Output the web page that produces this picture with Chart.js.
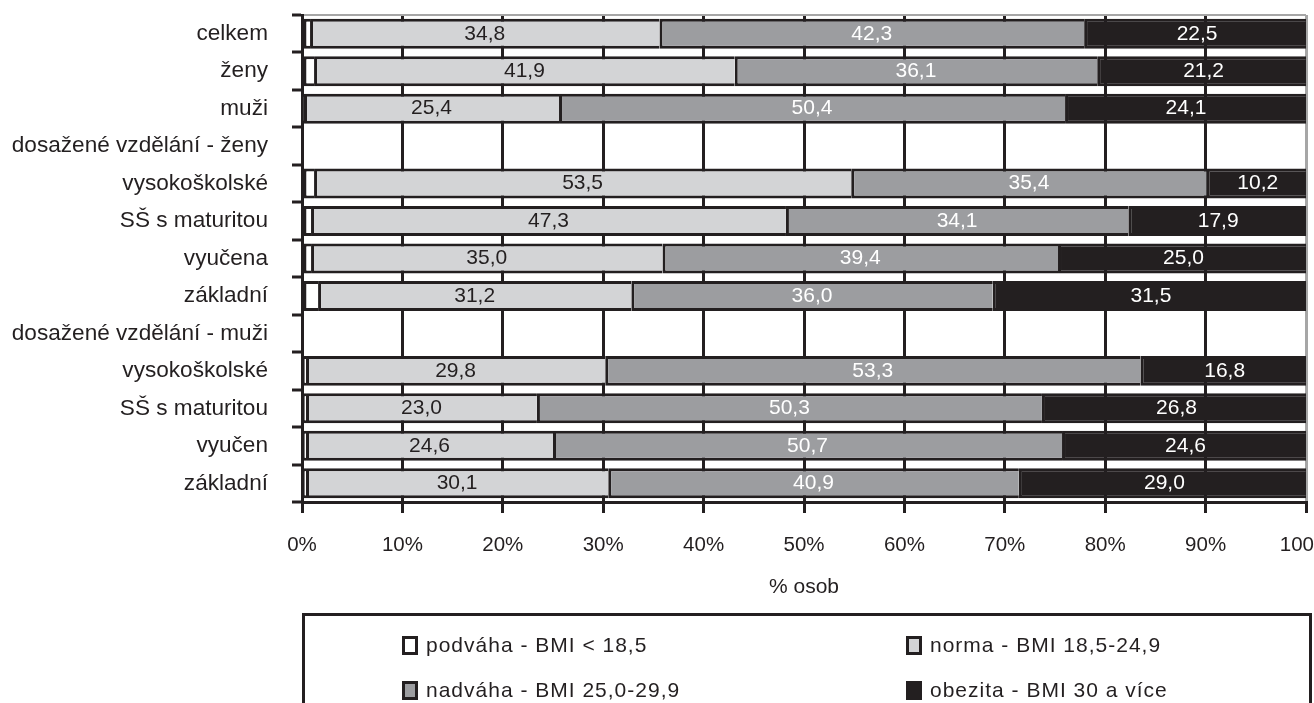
<!DOCTYPE html>
<html>
<head>
<meta charset="utf-8">
<script src="https://cdn.jsdelivr.net/npm/chart.js@4/dist/chart.umd.min.js"></script>
<style>
  html, body { margin: 0; padding: 0; background: #ffffff; }
  body { width: 1314px; height: 703px; position: relative; overflow: hidden; font-family: "Liberation Sans", Arial, sans-serif; }
  #c { position: absolute; left: 0; top: 0; }
  #legend { position: absolute; left: 302px; top: 613px; width: 1010px; height: 120px; border: 3px solid #231f20; box-sizing: border-box; }
  .item { position: absolute; display: flex; align-items: center; font-size: 21px; letter-spacing: 1px; color: #231f20; white-space: pre; height: 24px; }
  .sw { width: 16px; height: 19px; border: 3px solid #231f20; box-sizing: border-box; margin-right: 8px; }
</style>
</head>
<body>
<canvas id="c" width="1314" height="703"></canvas>
<div id="legend"></div>
<script>
const categories = ["celkem", "ženy", "muži", "dosažené vzdělání - ženy", "vysokoškolské", "SŠ s maturitou", "vyučena", "základní", "dosažené vzdělání - muži", "vysokoškolské", "SŠ s maturitou", "vyučen", "základní"];
const seriesNames = ["podváha - BMI < 18,5", "norma - BMI 18,5-24,9", "nadváha - BMI 25,0-29,9", "obezita - BMI 30 a více"];
const podvaha = [0.8, 1.2, 0.2, null, 1.2, 0.9, 0.9, 1.6, null, 0.4, 0.4, 0.4, 0.4];
const norma   = [34.8, 41.9, 25.4, null, 53.5, 47.3, 35.0, 31.2, null, 29.8, 23.0, 24.6, 30.1];
const nadvaha = [42.3, 36.1, 50.4, null, 35.4, 34.1, 39.4, 36.0, null, 53.3, 50.3, 50.7, 40.9];
const obezita = [22.5, 21.2, 24.1, null, 10.2, 17.9, 25.0, 31.5, null, 16.8, 26.8, 24.6, 29.0];
const xTicks = ["0%", "10%", "20%", "30%", "40%", "50%", "60%", "70%", "80%", "90%", "100%"];

const INK = '#231f20';
const fills = ['#ffffff', '#d3d4d6', '#9c9da0', INK];
const labelColors = [null, INK, '#ffffff', '#ffffff'];
const FONT = '"Liberation Sans", Arial, sans-serif';

const seriesData = [podvaha, norma, nadvaha, obezita];
const datasets = seriesData.map((d, i) => ({
  label: seriesNames[i],
  data: d,
  backgroundColor: fills[i],
  borderColor: INK,
  borderWidth: {top: 3, bottom: 3, left: 3, right: 0},
  borderSkipped: false,
  categoryPercentage: 1.0,
  barPercentage: 0.8,
  clip: 0
}));

const valueLabels = {
  id: 'valueLabels',
  afterDatasetsDraw(chart) {
    const ctx = chart.ctx;
    ctx.save();
    ctx.font = '21px ' + FONT;
    ctx.textAlign = 'center';
    ctx.textBaseline = 'middle';
    chart.data.datasets.forEach((ds, di) => {
      if (!labelColors[di]) return;
      const meta = chart.getDatasetMeta(di);
      meta.data.forEach((el, i) => {
        const v = ds.data[i];
        if (v === null || v === undefined) return;
        const p = el.getProps(['x', 'y', 'base'], true);
        ctx.fillStyle = labelColors[di];
        ctx.fillText(v.toFixed(1).replace('.', ','), (p.x + p.base) / 2, p.y);
      });
    });
    ctx.restore();
  }
};

new Chart(document.getElementById('c'), {
  type: 'bar',
  data: { labels: categories, datasets: datasets },
  options: {
    indexAxis: 'y',
    responsive: false,
    animation: false,
    devicePixelRatio: 1,
    layout: { padding: { top: 15, right: 8, left: 0, bottom: 0 } },
    plugins: { legend: { display: false }, tooltip: { enabled: false } },
    scales: {
      x: {
        stacked: true,
        min: 0, max: 100,
        afterBuildTicks(scale) { scale.ticks = xTicks.map((t, i) => ({ value: i * 10 })); },
        ticks: {
          stepSize: 10,
          callback: (v, i) => xTicks[i],
          color: INK,
          font: { family: FONT, size: 20.5 },
          padding: 20,
          maxRotation: 0,
          autoSkip: false
        },
        grid: {
          color: (c) => (c.index === 10 ? '#a6a6a6' : INK),
          lineWidth: 3,
          tickColor: INK,
          tickLength: 11,
          drawOnChartArea: true
        },
        border: { display: true, color: INK, width: 3 },
        title: {
          display: true,
          text: '% osob',
          color: INK,
          font: { family: FONT, size: 21 },
          padding: { top: 0, bottom: 103 }
        },
        afterFit(scale) { scale.height = 201; scale.paddingLeft = 0; scale.paddingRight = 0; }
      },
      y: {
        stacked: true,
        ticks: {
          color: INK,
          font: { family: FONT, size: 22.6 },
          padding: 24,
          autoSkip: false
        },
        grid: {
          offset: true,
          color: (c) => (c.index === 0 ? '#a6a6a6' : 'rgba(0,0,0,0)'),
          lineWidth: 2,
          tickColor: INK,
          tickWidth: 3,
          tickLength: 10,
          drawOnChartArea: true
        },
        border: { display: true, color: INK, width: 3 },
        afterFit(scale) { scale.width = 302; scale.paddingTop = 0; scale.paddingBottom = 0; }
      }
    }
  },
  plugins: [valueLabels]
});

// legend (2 x 2), built from series names and colours
const legend = document.getElementById('legend');
const pos = [[97, 17], [601, 17], [97, 62], [601, 62]];
[0, 1, 2, 3].forEach((si, k) => {
  const it = document.createElement('div');
  it.className = 'item';
  it.style.left = pos[k][0] + 'px';
  it.style.top = pos[k][1] + 'px';
  const sw = document.createElement('span');
  sw.className = 'sw';
  sw.style.background = fills[si];
  const tx = document.createElement('span');
  tx.textContent = seriesNames[si];
  it.appendChild(sw);
  it.appendChild(tx);
  legend.appendChild(it);
});
</script>
</body>
</html>
